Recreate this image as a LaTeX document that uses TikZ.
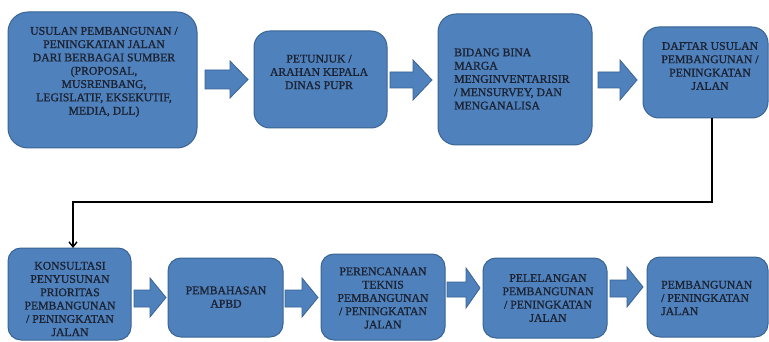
\documentclass[tikz,border=0pt]{standalone}
\usepackage{fontspec}
\setmainfont{Liberation Serif}
\newfontfamily\lblfont{Liberation Serif}[FakeBold=1.2]
\usetikzlibrary{arrows.meta}
\definecolor{boxblue}{HTML}{4F81BD}
\definecolor{boxedge}{HTML}{3A6493}
\definecolor{txt}{HTML}{1C2333}
\tikzset{
  box/.style={draw=boxedge, fill=boxblue, line width=1pt, rounded corners=#1,
    inner sep=0pt, outer sep=0pt, anchor=north west},
  box/.default=16pt,
  lbl/.style={text=txt, font=\lblfont\fontsize{11.7}{13.3}\selectfont, inner sep=0pt, align=center},
  lbll/.style={lbl, align=left, anchor=west},
  barrow/.style={draw=boxedge, fill=boxblue, line width=0.8pt},
  conn/.style={line width=1.4pt, black}
}
\newcommand\blockarr[7]{\draw[barrow] (#1,#6) -- (#3,#6) -- (#3,#4) -- (#2,{(#4+#5)/2}) -- (#3,#5) -- (#3,#7) -- (#1,#7) -- cycle;}
\begin{document}
\begin{tikzpicture}[x=1pt,y=-1pt]
\fill[white] (0,0) rectangle (769,342);
\useasboundingbox (0,0) rectangle (769,342);
% top row boxes
\node[box=20pt, minimum width=189pt, minimum height=136pt] (b1) at (8,12) {};
\node[box, minimum width=133pt, minimum height=97pt] (b2) at (254,31) {};
\node[box=18pt, minimum width=154pt, minimum height=131pt] (b3) at (438,14) {};
\node[box, minimum width=125pt, minimum height=91pt] (b4) at (643,27) {};
% bottom row boxes
\node[box=13pt, minimum width=123pt, minimum height=92pt] (b5) at (8,248) {};
\node[box=13pt, minimum width=115pt, minimum height=79pt] (b6) at (168,258) {};
\node[box=13pt, minimum width=124pt, minimum height=86pt] (b7) at (321,254) {};
\node[box=13pt, minimum width=124pt, minimum height=80pt] (b8) at (483,258) {};
\node[box=13pt, minimum width=121pt, minimum height=80pt] (b9) at (647,257) {};
% texts
\node[lbl] (t1) at (104,72) {USULAN PEMBANGUNAN /\\PENINGKATAN JALAN\\DARI BERBAGAI SUMBER\\(PROPOSAL,\\MUSRENBANG,\\LEGISLATIF, EKSEKUTIF,\\MEDIA, DLL)};
\node[lbl] (t2) at (319,72) {PETUNJUK /\\ARAHAN KEPALA\\DINAS PUPR};
\node[lbll] (t3) at (454,79) {BIDANG BINA\\MARGA\\MENGINVENTARISIR\\/ MENSURVEY, DAN\\MENGANALISA};
\node[lbl] (t4) at (710,66) {DAFTAR USULAN\\PEMBANGUNAN /\\PENINGKATAN\\JALAN};
\node[lbl] (t5) at (70,299) {KONSULTASI\\PENYUSUNAN\\PRIORITAS\\PEMBANGUNAN\\/ PENINGKATAN\\JALAN};
\node[lbl] (t6) at (226,297) {PEMBAHASAN\\APBD};
\node[lbl] (t7) at (383,298) {PERENCANAAN\\TEKNIS\\PEMBANGUNAN\\/ PENINGKATAN\\JALAN};
\node[lbl] (t8) at (548,298) {PELELANGAN\\PEMBANGUNAN\\/ PENINGKATAN\\JALAN};
\node[lbll] (t9) at (661,298) {PEMBANGUNAN\\/ PENINGKATAN\\JALAN};
% block arrows
\blockarr{205}{248}{230}{61}{98}{70}{89}
\blockarr{390}{432}{413}{60}{100}{72}{88}
\blockarr{598}{637}{620}{60}{100}{72}{88}
\blockarr{134}{166}{150}{278}{317}{290}{307}
\blockarr{285}{318}{302}{278}{317}{290}{307}
\blockarr{447}{480}{466}{268}{308}{282}{297}
\blockarr{610}{643}{627}{267}{307}{280}{297}
% connector
\coordinate (c1) at (712,202);
\coordinate (c2) at (73,202);
\draw[conn, -{Straight Barb[length=5pt,width=8pt]}] (b4.south -| c1) -- (c1) -- (c2) -- (b5.north -| c2);
\end{tikzpicture}
\end{document}
